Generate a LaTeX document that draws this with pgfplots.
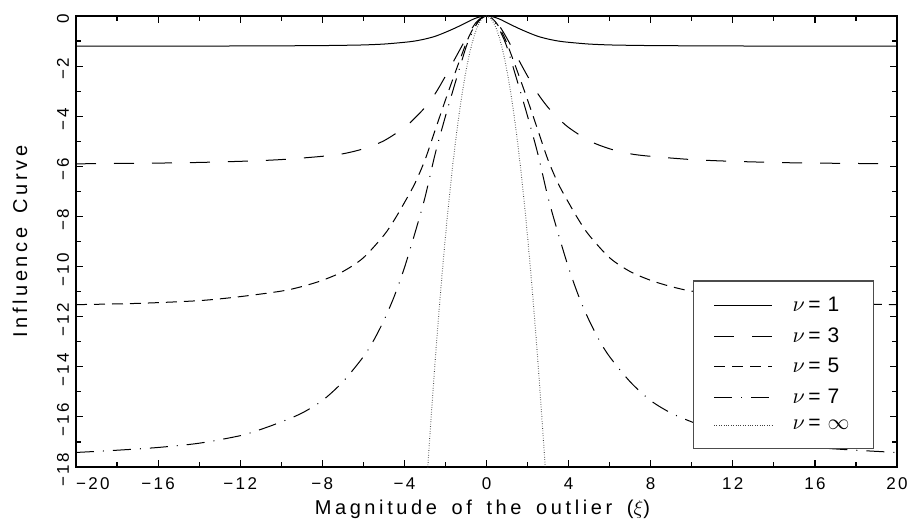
\documentclass[border=0pt]{standalone}
\usepackage{fontspec}
\setmainfont{Liberation Sans}
\newfontfamily\tickfont[LetterSpace=14]{Liberation Sans}
\newfontfamily\labfont[LetterSpace=18,WordSpace=1.6]{Liberation Sans}
\usepackage{pgfplots}
\pgfplotsset{compat=1.18}

\pgfplotstableread{
x y
-20 -1.2
-14 -1.2
-10 -1.19
-8 -1.18
-7 -1.17
-6 -1.155
-5 -1.12
-4 -1.05
-3.5 -1.0
-3 -0.92
-2.5 -0.81
-2 -0.65
-1.5 -0.47
-1 -0.27
-0.75 -0.165
-0.5 -0.08
-0.25 -0.02
0 0
0.25 -0.02
0.5 -0.08
0.75 -0.165
1 -0.27
1.5 -0.47
2 -0.65
2.5 -0.81
3 -0.92
3.5 -1.0
4 -1.05
5 -1.12
6 -1.155
7 -1.17
8 -1.18
10 -1.19
14 -1.2
20 -1.2
}\nuone

\pgfplotstableread{
x y
-20 -5.9
-15 -5.86
-12 -5.8
-10 -5.73
-8 -5.6
-7 -5.5
-6 -5.3
-5 -4.98
-4 -4.45
-3.5 -4.08
-3 -3.65
-2.5 -3.1
-2 -2.4
-1.5 -1.65
-1 -0.9
-0.75 -0.55
-0.5 -0.25
-0.25 -0.07
0 0
0.25 -0.07
0.5 -0.25
0.75 -0.55
1 -0.9
1.5 -1.65
2 -2.4
2.5 -3.1
3 -3.65
3.5 -4.08
4 -4.45
5 -4.98
6 -5.3
7 -5.5
8 -5.6
10 -5.73
12 -5.8
15 -5.86
20 -5.9
}\nuthree

\pgfplotstableread{
x y
-20 -11.52
-17 -11.47
-14 -11.36
-12 -11.2
-10 -10.98
-9 -10.8
-8 -10.55
-7 -10.2
-6 -9.65
-5 -8.75
-4.5 -8.15
-4 -7.45
-3.5 -6.7
-3 -5.75
-2.5 -4.55
-2 -3.35
-1.5 -2.2
-1 -1.1
-0.75 -0.65
-0.5 -0.3
-0.25 -0.08
0 0
0.25 -0.08
0.5 -0.3
0.75 -0.65
1 -1.1
1.5 -2.2
2 -3.35
2.5 -4.55
3 -5.75
3.5 -6.7
4 -7.45
4.5 -8.15
5 -8.75
6 -9.65
7 -10.2
8 -10.55
9 -10.8
10 -10.98
12 -11.2
14 -11.36
17 -11.47
20 -11.52
}\nufive

\pgfplotstableread{
x y
-20 -17.42
-18 -17.33
-16 -17.22
-14 -17.05
-12 -16.75
-11 -16.5
-10 -16.2
-9 -15.85
-8 -15.35
-7 -14.6
-6 -13.6
-5.5 -12.95
-5 -12.15
-4.5 -11.2
-4 -10.05
-3.5 -8.7
-3 -7.25
-2.5 -5.5
-2 -4.0
-1.5 -2.6
-1 -1.25
-0.75 -0.75
-0.5 -0.35
-0.25 -0.09
0 0
0.25 -0.09
0.5 -0.35
0.75 -0.75
1 -1.25
1.5 -2.6
2 -4.0
2.5 -5.5
3 -7.25
3.5 -8.7
4 -10.05
4.5 -11.2
5 -12.15
5.5 -12.95
6 -13.6
7 -14.6
8 -15.35
9 -15.85
10 -16.2
11 -16.5
12 -16.75
14 -17.05
16 -17.22
18 -17.33
20 -17.42
}\nuseven

\pgfplotstableread{
x y
-2.9 -18.5
-2.75 -16.64
-2.5 -13.75
-2.25 -11.14
-2 -8.8
-1.75 -6.74
-1.5 -4.95
-1.25 -3.44
-1 -2.2
-0.75 -1.24
-0.5 -0.55
-0.25 -0.14
0 0
0.25 -0.14
0.5 -0.55
0.75 -1.24
1 -2.2
1.25 -3.44
1.5 -4.95
1.75 -6.74
2 -8.8
2.25 -11.14
2.5 -13.75
2.75 -16.64
2.9 -18.5
}\nuinf

\begin{document}
\begin{tikzpicture}
\path[use as bounding box] (-38pt,-26.5pt) rectangle (416.5pt,233.5pt);
\begin{axis}[
  at={(0,0)}, anchor=south west,
  scale only axis,
  width=410.5pt, height=225.5pt,
  xmin=-20, xmax=20, ymin=-18, ymax=0,
  xtick={-20,-16,...,20},
  xticklabels={\hphantom{−20}−20,−16,−12,−8,−4,0,4,8,12,16,20},
  minor xtick={-18,-14,...,18},
  ytick={-18,-16,...,0},
  yticklabels={−18,−16,−14,−12,−10,−8,−6,−4,−2,0},
  minor ytick={-17,-15,...,-1},
  tick align=inside,
  major tick length=3.5pt,
  minor tick length=2.5pt,
  every tick/.style={black, line width=0.6pt},
  axis line style={line width=1pt},
  tick label style={font=\tickfont\fontsize{8.5}{10}\selectfont},
  xticklabel style={yshift=-2pt},
  yticklabel style={rotate=90, anchor=south, xshift=-1.5pt},
  xlabel={\labfont Magnitude of the outlier ($\xi$)},
  ylabel={\labfont Influence Curve},
  label style={font=\fontsize{10}{12}\selectfont},
  xlabel style={at={(axis description cs:0.495,-0.093)}, anchor=center},
  ylabel style={at={(axis description cs:-0.0682,0.5)}, anchor=center},
  legend style={at={(0.972,0.04)}, anchor=south east, draw=black!70, fill=white,
    line width=0.6pt, font=\fontsize{10.5}{12}\selectfont,
    inner xsep=10pt, inner ysep=6pt, row sep=2.5pt,
    cells={anchor=west},
    /tikz/every odd column/.append style={column sep=8pt}},
  legend image code/.code={\draw[#1] (0pt,0pt) -- (29pt,0pt);},
  every axis plot/.append style={line width=0.5pt, black},
]
\addplot[smooth] table {\nuone};
\addlegendentry{$\nu$\,=\,\,1}
\addplot[smooth, dash pattern=on 10pt off 9pt] table {\nuthree};
\addlegendentry{$\nu$\,=\,\,3}
\addplot[smooth, dash pattern=on 5.5pt off 3.5pt] table {\nufive};
\addlegendentry{$\nu$\,=\,\,5}
\addplot[smooth, dash pattern=on 9pt off 4.5pt on 0.5pt off 4.5pt] table {\nuseven};
\addlegendentry{$\nu$\,=\,\,7}
\addplot[smooth, black!75, dash pattern=on 0.3pt off 0.9pt] table {\nuinf};
\addlegendentry{$\nu$\,=\,\,$\infty$}
\end{axis}
\end{tikzpicture}
\end{document}
